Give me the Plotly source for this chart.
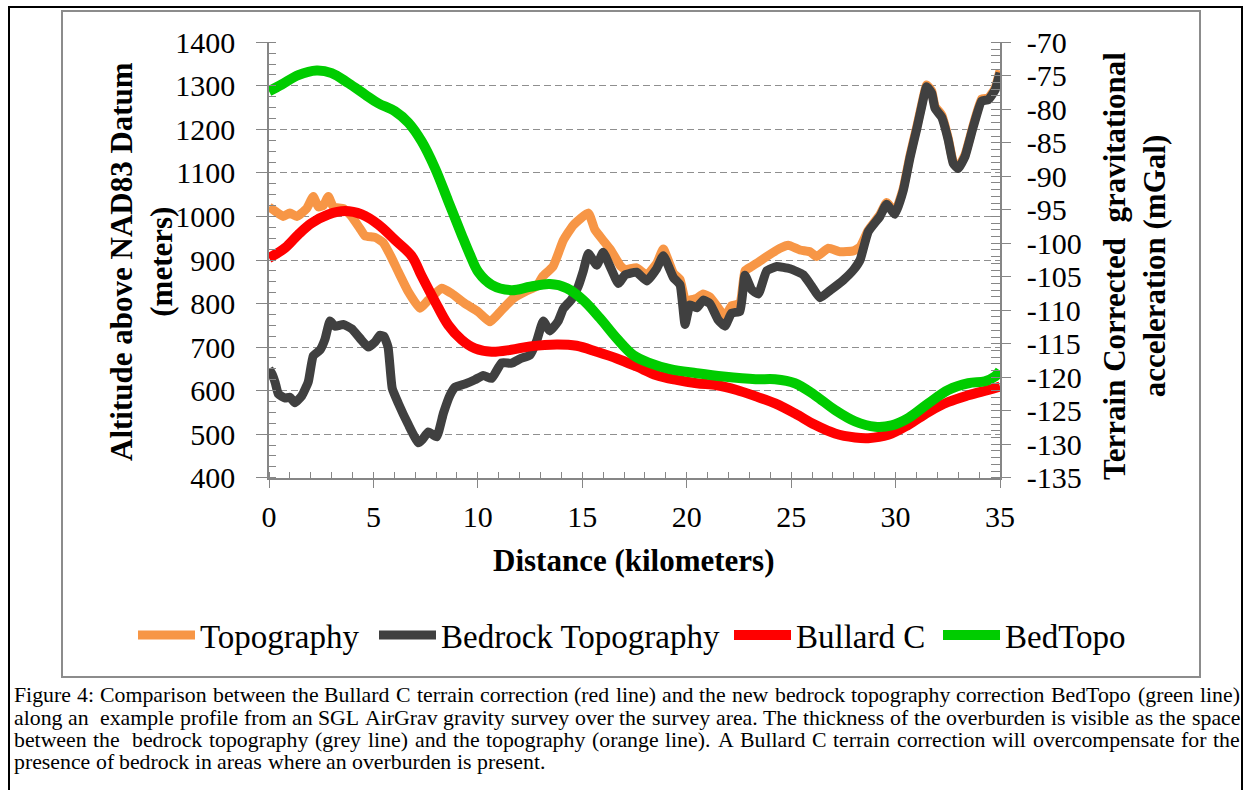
import re
import plotly.graph_objects as go

# ---------------- data ----------------
topo_km = [0, 0.3, 0.68, 1.0, 1.33, 1.8, 2.12, 2.36, 2.6, 2.84, 3.08, 3.56, 3.96, 4.36, 4.6,
           5.08, 5.47, 5.87, 6.19, 6.67, 7.23, 7.63, 8.27, 8.75, 9.38, 10.02, 10.58, 11.14,
           11.7, 12.3, 12.82, 13.1, 13.6, 14.09, 14.57, 15.29, 15.6, 16.0, 16.33, 16.65, 16.8,
           17.05, 17.6, 18.08, 18.56, 18.88, 19.36, 19.68, 19.95, 20.16, 20.48, 20.79, 21.11,
           21.51, 21.83, 22.15, 22.55, 22.79, 23.11, 23.43, 23.83, 24.47, 24.86, 25.42, 25.9,
           26.22, 26.78, 27.34, 27.98, 28.3, 28.69, 29.25, 29.57, 29.97, 30.37, 30.69, 31.01,
           31.25, 31.49, 31.73, 31.89, 32.21, 32.52, 32.76, 33.0, 33.32, 33.72, 34.12, 34.44,
           34.76, 35.0]
topo_m = [1022, 1012, 1000, 1008, 1000, 1018, 1046, 1022, 1025, 1046, 1022, 1018, 1000, 972, 955,
          952, 940, 905, 873, 827, 789, 808, 835, 823, 800, 781, 758, 785,
          812, 828, 840, 862, 885, 945, 980, 1008, 970, 945, 925, 900, 888,
          878, 882, 865, 892, 925, 870, 855, 805, 808, 812, 822, 815,
          790, 770, 795, 800, 875, 885, 895, 908, 927, 934, 923, 919,
          908, 927, 919, 921, 930, 968, 1004, 1032, 1010, 1065, 1140, 1205,
          1257, 1302, 1288, 1253, 1233, 1180, 1126, 1114, 1141, 1210, 1270, 1272,
          1294, 1335]

bedrock_km = [0, 0.15, 0.3, 0.45, 0.77, 1.0, 1.24, 1.57, 1.88, 2.12, 2.44, 2.68, 2.92, 3.16,
              3.56, 3.96, 4.36, 4.75, 5.08, 5.31, 5.5, 5.7, 5.9, 6.19, 6.67, 7.15, 7.35, 7.63,
              8.03, 8.35, 8.67, 8.91, 9.38, 9.86, 10.26, 10.66, 11.14, 11.62, 12.02, 12.5,
              12.82, 13.13, 13.45, 13.85, 14.09, 14.49, 14.81, 15.05, 15.29, 15.69, 16.0,
              16.33, 16.73, 17.05, 17.6, 18.08, 18.56, 18.88, 19.36, 19.68, 19.92, 20.16,
              20.48, 20.79, 21.11, 21.51, 21.83, 22.15, 22.55, 22.79, 23.11, 23.43, 23.83,
              24.31, 24.95, 25.58, 25.98, 26.38, 26.86, 27.5, 27.98, 28.3, 28.69, 29.25,
              29.57, 29.97, 30.37, 30.69, 31.01, 31.25, 31.49, 31.73, 31.89, 32.21, 32.52,
              32.76, 33.0, 33.32, 33.72, 34.12, 34.44, 34.76, 35.0]
bedrock_m = [650, 638, 618, 592, 583, 585, 572, 588, 620, 680, 693, 718, 760, 748,
             752, 742, 720, 700, 712, 727, 725, 700, 605, 571, 522, 480, 488, 505,
             494, 548, 590, 608, 615, 625, 635, 628, 664, 663, 673, 682,
             715, 760, 737, 760, 788, 810, 840, 875, 915, 888, 918,
             885, 846, 866, 872, 852, 880, 910, 860, 843, 752, 797,
             790, 808, 800, 762, 748, 778, 782, 865, 832, 822, 875,
             885, 880, 866, 840, 813, 830, 854, 877, 900, 965, 1000,
             1028, 1005, 1060, 1135, 1200, 1252, 1298, 1283, 1248, 1228, 1176,
             1122, 1110, 1137, 1206, 1265, 1268, 1290, 1330]

bullard_km = [0, 0.77, 1.4, 2.04, 2.84, 3.64, 4.44, 5.23, 6.03, 6.83, 7.31, 7.95, 8.58, 9.22,
              9.86, 10.66, 11.6, 12.5, 13.78, 14.73, 15.69, 16.65, 17.6, 18.56, 19.52, 20.48,
              21.44, 22.39, 23.35, 24.23, 25.18, 26.14, 27.1, 28.06, 28.69, 29.65, 30.61,
              31.57, 32.52, 33.48, 34.44, 35]
bullard_mgal = [-102.2, -100.7, -98.7, -97.0, -95.7, -95.2, -95.7, -97.2, -99.5, -101.9, -104.9,
                -108.7, -112.2, -114.4, -115.7, -116.2, -115.9, -115.4, -115.1, -115.3, -116.2,
                -117.2, -118.4, -119.7, -120.4, -120.9, -121.2, -121.9, -122.9, -123.9, -125.4,
                -127.1, -128.4, -129.0, -129.1, -128.6, -127.1, -125.2, -123.7, -122.7, -121.9,
                -121.4]

bedtopo_km = [0, 0.61, 1.4, 2.28, 3.0, 3.8, 4.6, 5.23, 6.03, 6.67, 7.31, 7.95, 8.58, 9.22,
              9.62, 10.02, 10.66, 11.6, 12.5, 13.45, 14.25, 15.05, 15.85, 16.65, 17.44, 18.24,
              19.2, 20.48, 21.75, 23.3, 24.23, 25.18, 26.14, 27.1, 28.06, 29.02, 29.81, 30.61,
              31.57, 32.52, 33.48, 34.28, 34.76, 35]
bedtopo_mgal = [-77.3, -76.3, -74.9, -74.2, -74.6, -76.1, -77.8, -79.1, -80.3, -82.0, -84.8,
                -88.8, -93.7, -98.7, -101.7, -104.3, -106.2, -107.0, -106.5, -106.1, -106.7,
                -108.5, -111.2, -114.2, -116.7, -117.9, -118.8, -119.4, -119.9, -120.3, -120.3,
                -120.9, -122.7, -124.9, -126.6, -127.4, -127.2, -126.1, -123.9, -121.9, -120.9,
                -120.6, -119.9, -119.0]

x_ticks = [0, 5, 10, 15, 20, 25, 30, 35]
left_ticks = [400, 500, 600, 700, 800, 900, 1000, 1100, 1200, 1300, 1400]
right_ticks = [-135, -130, -125, -120, -115, -110, -105, -100, -95, -90, -85, -80, -75, -70]
right_tick_labels = ["-135", "-130", "-125", "-120", "-115", "-110", "-105", "-100", "-95",
                     "-90", "-85", "-80", "-75", "-70"]

caption_lines = [
    "Figure 4: Comparison between the Bullard C terrain correction (red line) and the new bedrock topography correction BedTopo (green line)",
    "along an  example profile from an SGL AirGrav gravity survey over the survey area. The thickness of the overburden is visible as the space",
    "between the  bedrock topography (grey line) and the topography (orange line). A Bullard C terrain correction will overcompensate for the",
    "presence of bedrock in areas where an overburden is present.",
]

# ---------------- layout helpers ----------------
W, H = 1246, 790
SERIF = "Liberation Serif, Times New Roman, serif"
AXC = "#868686"


def fx(p):
    return p / W


def fy(p):
    return 1 - p / H


fig = go.Figure()
fig.add_trace(go.Scatter(x=topo_km, y=topo_m, name="Topography", mode="lines", legend="legend",
                         line=dict(color="#F79646", width=9, shape="spline", smoothing=0.4)))
fig.add_trace(go.Scatter(x=bedrock_km, y=bedrock_m, name="Bedrock Topography", mode="lines",
                         legend="legend2",
                         line=dict(color="#404040", width=9, shape="spline", smoothing=0.4)))
fig.add_trace(go.Scatter(x=bullard_km, y=bullard_mgal, name="Bullard C", mode="lines", yaxis="y2",
                         legend="legend3",
                         line=dict(color="#FF0000", width=10, shape="spline", smoothing=1.0)))
fig.add_trace(go.Scatter(x=bedtopo_km, y=bedtopo_mgal, name="BedTopo", mode="lines", yaxis="y2",
                         legend="legend4",
                         line=dict(color="#00CC00", width=10, shape="spline", smoothing=1.0)))

tickfont = dict(family=SERIF, size=30, color="black")


def leg(xleft):
    return dict(orientation="h", x=fx(xleft), xanchor="left", y=fy(635), yanchor="middle",
                font=dict(family=SERIF, size=33, color="black"), bgcolor="rgba(0,0,0,0)",
                borderwidth=0, itemwidth=57)


fig.update_layout(
    width=W, height=H, autosize=False,
    margin=dict(l=0, r=0, t=0, b=0, pad=0, autoexpand=False),
    paper_bgcolor="white", plot_bgcolor="white",
    showlegend=True,
    xaxis=dict(domain=[fx(269), fx(1000)], range=[0, 35], tickvals=x_ticks,
               ticks="outside", ticklen=9, tickcolor=AXC, tickwidth=1.3,
               showline=True, linecolor=AXC, linewidth=1.5, showgrid=False, zeroline=False,
               tickfont=tickfont, ticklabelstandoff=3, automargin=False,
               minor=dict(dtick=1, ticks="inside", ticklen=6, tickcolor=AXC, tickwidth=1.3, showgrid=False),
               anchor="y", fixedrange=True),
    xaxis2=dict(overlaying="x", anchor="y", range=[0, 35], tickvals=x_ticks, ticks="inside",
                ticklen=9, tickcolor=AXC, tickwidth=1.3, showticklabels=False, showline=False,
                showgrid=False, zeroline=False, automargin=False, fixedrange=True, side="bottom"),
    yaxis=dict(domain=[fy(477.7), fy(42.3)], range=[400, 1400], tickvals=left_ticks,
               ticks="outside", ticklen=11, tickcolor=AXC, tickwidth=1.3,
               showline=True, linecolor=AXC, linewidth=1.5, zeroline=False,
               showgrid=True, gridcolor="#8f8f8f", griddash="7px,4px", gridwidth=1.2,
               tickfont=tickfont, ticklabelstandoff=15, automargin=False,
               minor=dict(dtick=25, ticks="inside", ticklen=7, tickcolor=AXC, tickwidth=1.3, showgrid=False),
               anchor="x", fixedrange=True),
    yaxis2=dict(overlaying="y", side="right", anchor="x", range=[-135, -70],
                tickvals=right_ticks, ticktext=right_tick_labels,
                ticks="outside", ticklen=9, tickcolor=AXC, tickwidth=1.3,
                showline=True, linecolor=AXC, linewidth=1.5, zeroline=False, showgrid=False,
                tickfont=tickfont, ticklabelstandoff=10, automargin=False,
                minor=dict(dtick=1, ticks="inside", ticklen=9, tickcolor=AXC, tickwidth=1.3, showgrid=False),
                fixedrange=True),
    yaxis3=dict(overlaying="y", side="right", anchor="x", range=[-135, -70], tickvals=right_ticks,
                ticks="inside", ticklen=9, tickcolor=AXC, tickwidth=1.3, showticklabels=False,
                showline=False, showgrid=False, zeroline=False, automargin=False, fixedrange=True),
    legend=leg(133),
    legend2=leg(374),
    legend3=leg(729),
    legend4=leg(938),
)

# axis titles
annos = [
    dict(text="Altitude above NAD83 Datum<br>(meters)", x=fx(141), y=fy(262), textangle=-90,
         font=dict(family=SERIF, size=31, color="black", weight="bold")),
    dict(text="Terrain Corrected\u00a0 gravitational<br>acceleration (mGal)", x=fx(1134), y=fy(266),
         textangle=-90, font=dict(family=SERIF, size=31, color="black", weight="bold")),
    dict(text="Distance (kilometers)", x=fx(634), y=fy(560),
         font=dict(family=SERIF, size=31, color="black", weight="bold")),
]
for a in annos:
    a.update(xref="paper", yref="paper", showarrow=False, xanchor="center", yanchor="middle")
    fig.add_annotation(**a)

# caption, justified with Times metrics (Liberation Serif is metric compatible)
TW = {' ': 250, '!': 333, '(': 333, ')': 333, ',': 250, '-': 333, '.': 250, ':': 278,
      '0': 500, '1': 500, '2': 500, '3': 500, '4': 500, '5': 500, '6': 500, '7': 500, '8': 500, '9': 500,
      'A': 722, 'B': 667, 'C': 667, 'D': 722, 'E': 611, 'F': 556, 'G': 722, 'H': 722, 'I': 333,
      'J': 389, 'K': 722, 'L': 611, 'M': 889, 'N': 722, 'O': 722, 'P': 556, 'Q': 722, 'R': 667,
      'S': 556, 'T': 611, 'U': 722, 'V': 722, 'W': 944, 'X': 722, 'Y': 722, 'Z': 611,
      'a': 444, 'b': 500, 'c': 444, 'd': 500, 'e': 444, 'f': 333, 'g': 500, 'h': 500, 'i': 278,
      'j': 278, 'k': 500, 'l': 278, 'm': 778, 'n': 500, 'o': 500, 'p': 500, 'q': 500, 'r': 333,
      's': 389, 't': 278, 'u': 500, 'v': 500, 'w': 722, 'x': 500, 'y': 500, 'z': 444}
CAP_SIZE = 21.8
CAP_LEFT, CAP_RIGHT = 14, 1240
cap_y = [695, 718, 740, 762]


def wid(s):
    return sum(TW.get(c, 500) for c in s) / 1000.0 * CAP_SIZE


for i, line in enumerate(caption_lines):
    justify = i < len(caption_lines) - 1
    parts = re.split(r"( +)", line)
    words = parts[0::2]
    gaps = parts[1::2]
    natural = sum(wid(w) for w in words) + sum(wid(g) for g in gaps)
    extra = (CAP_RIGHT - CAP_LEFT - natural) / max(len(gaps), 1) if justify else 0
    xpos = CAP_LEFT
    for k, w in enumerate(words):
        fig.add_annotation(text=w, x=fx(xpos - 1), y=fy(cap_y[i]), xref="paper", yref="paper",
                           showarrow=False, xanchor="left", yanchor="middle", borderpad=0,
                           font=dict(family=SERIF, size=CAP_SIZE, color="black"))
        xpos += wid(w)
        if k < len(gaps):
            xpos += wid(gaps[k]) + extra

# frames
fig.add_shape(type="rect", xref="paper", yref="paper", x0=fx(62), x1=fx(1200), y0=fy(677), y1=fy(11),
              line=dict(color="#8c8c8c", width=2), layer="below")
fig.add_shape(type="path", xref="paper", yref="paper",
              path=f"M {fx(9)} 0 L {fx(9)} {fy(7)} L {fx(1242)} {fy(7)} L {fx(1242)} 0",
              line=dict(color="black", width=2), layer="below")

fig.write_html("out.html", config={"displayModeBar": False},
               post_script="document.body.style.margin='0px';")
